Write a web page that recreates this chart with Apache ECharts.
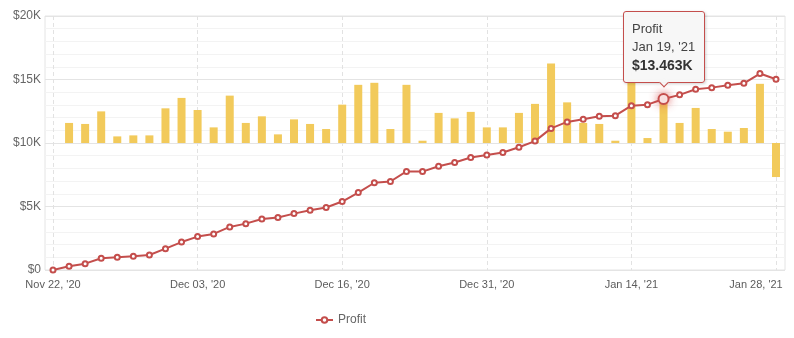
<!DOCTYPE html>
<html>
<head>
<meta charset="utf-8">
<script src="https://cdn.jsdelivr.net/npm/echarts@6/dist/echarts.min.js"></script>
<style>
html,body{margin:0;padding:0;background:#fff;}
#chart{width:794px;height:338px;}
</style>
</head>
<body>
<div id="chart"></div>
<script>
// ---- data ----
const dates = [
  "Nov 22, '20","Nov 23, '20","Nov 24, '20","Nov 25, '20","Nov 26, '20","Nov 27, '20","Nov 30, '20",
  "Dec 01, '20","Dec 02, '20","Dec 03, '20","Dec 04, '20","Dec 07, '20","Dec 08, '20","Dec 09, '20",
  "Dec 10, '20","Dec 11, '20","Dec 14, '20","Dec 15, '20","Dec 16, '20","Dec 17, '20","Dec 18, '20",
  "Dec 21, '20","Dec 22, '20","Dec 23, '20","Dec 28, '20","Dec 29, '20","Dec 30, '20","Dec 31, '20",
  "Jan 04, '21","Jan 05, '21","Jan 06, '21","Jan 07, '21","Jan 08, '21","Jan 11, '21","Jan 12, '21",
  "Jan 13, '21","Jan 14, '21","Jan 15, '21","Jan 19, '21","Jan 20, '21","Jan 21, '21","Jan 22, '21",
  "Jan 25, '21","Jan 26, '21","Jan 27, '21","Jan 28, '21"
];
const profit = [
  0, 290, 500, 920, 1000, 1080, 1180, 1680, 2200, 2630, 2840, 3390, 3650, 4020, 4130, 4440,
  4710, 4920, 5390, 6100, 6870, 6970, 7760, 7750, 8170, 8470, 8860, 9050, 9250, 9670, 10150,
  11150, 11660, 11870, 12100, 12150, 12940, 13020, 13463, 13790, 14230, 14360, 14540, 14700,
  15470, 15020
];
const daily = [
  null, 1580, 1500, 2490, 520, 600, 600, 2730, 3550, 2600, 1230, 3730, 1580, 2100, 680, 1860,
  1500, 1100, 3020, 4580, 4740, 1100, 4580, 180, 2370, 1940, 2450, 1230, 1230, 2370, 3080,
  6260, 3200, 1580, 1500, 180, 5000, 390, 3450, 1580, 2760, 1100, 890, 1180, 4660, -2680
];
const yTicks = [0, 5000, 10000, 15000, 20000];
const seriesName = 'Profit';
const tipIndex = 38;

// ---- chart ----
const chart = echarts.init(document.getElementById('chart'), null, {renderer: 'canvas'});
const FONT = '"Liberation Sans", Arial, sans-serif';
const lineColor = '#c44e4c';
const lastIdx = dates.length - 1;

const lineData = profit.map((v, i) => i === tipIndex ? {
  value: v, symbolSize: 10,
  itemStyle: {borderWidth: 2.5, shadowBlur: 8, shadowColor: 'rgba(215,70,70,0.7)'}
} : v);

function fmtMoney(v) {
  return '$' + (v / 1000).toFixed(3) + 'K';
}

chart.setOption({
  animation: false,
  backgroundColor: '#fff',
  textStyle: {fontFamily: FONT},
  grid: [
    {left: 45, right: 9, top: 16, bottom: 68, show: true, borderColor: '#e4e4e4', borderWidth: 1, backgroundColor: 'transparent'},
    {left: 53, right: 18, top: 16, bottom: 68}
  ],
  legend: {
    data: [seriesName],
    left: 310, top: 309,
    itemWidth: 17, itemHeight: 7, itemGap: 10,
    textStyle: {color: '#666', fontSize: 12, fontFamily: FONT}
  },
  tooltip: {
    trigger: 'item',
    position: 'top',
    alwaysShowContent: true,
    transitionDuration: 0,
    confine: false,
    backgroundColor: 'rgba(247,247,247,0.96)',
    borderColor: lineColor,
    borderWidth: 1,
    padding: [8, 9, 8, 8],
    textStyle: {color: '#333', fontSize: 13, fontFamily: FONT},
    extraCssText: 'border-radius:3px;box-shadow:1px 1px 3px rgba(0,0,0,0.18);',
    formatter: function (p) {
      if (p.seriesName !== seriesName) return '';
      return '<div style="line-height:18px;color:#444;font-size:13px">' + seriesName + '</div>' +
             '<div style="line-height:18px;color:#444;font-size:13px">' + dates[p.dataIndex] + '</div>' +
             '<div style="line-height:18px;color:#333;font-size:14px;font-weight:bold">' + fmtMoney(p.value) + '</div>';
    }
  },
  xAxis: [
    {gridIndex: 0, type: 'value', min: 0, max: 1, show: false},
    {
      gridIndex: 1, type: 'category', data: dates, boundaryGap: false,
      axisLine: {show: false}, axisTick: {show: false, interval: 8},
      axisLabel: {
        interval: 8, color: '#5c5c5c', fontSize: 11, margin: 9, fontFamily: FONT,
        formatter: function (v, i) { return i === lastIdx ? '{r|' + v + '}' : v; },
        rich: {r: {padding: [0, 40, 0, 0], color: '#5c5c5c', fontSize: 11, fontFamily: FONT}}
      },
      splitLine: {show: true, interval: 8, lineStyle: {color: '#e2e2e2', type: [4, 3]}}
    }
  ],
  yAxis: [
    {
      gridIndex: 0, type: 'value', min: 0, max: 20000, interval: 5000,
      axisLine: {show: false}, axisTick: {show: false},
      axisLabel: {
        color: '#666', fontSize: 12, margin: 4, fontFamily: FONT,
        formatter: v => v === 0 ? '$0' : '$' + (v / 1000) + 'K'
      },
      splitLine: {show: true, lineStyle: {color: '#e4e4e4'}},
      minorTick: {show: false, splitNumber: 5},
      minorSplitLine: {show: true, lineStyle: {color: '#f3f3f3'}}
    },
    {gridIndex: 1, type: 'value', min: 0, max: 20000, show: false},
    {gridIndex: 1, type: 'value', min: -10000, max: 10000, show: false}
  ],
  series: [
    {
      name: seriesName, type: 'line', xAxisIndex: 1, yAxisIndex: 1,
      data: lineData, z: 4,
      symbol: 'emptyCircle', symbolSize: 5,
      lineStyle: {color: lineColor, width: 2},
      itemStyle: {color: lineColor, borderColor: lineColor, borderWidth: 1.2},
      emphasis: {disabled: true}
    },
    {
      name: 'Daily', type: 'bar', xAxisIndex: 1, yAxisIndex: 2,
      data: daily, barWidth: 8, clip: false, z: 2,
      itemStyle: {color: '#f2ca5b'},
      emphasis: {disabled: true},
      tooltip: {show: false}
    }
  ]
});

chart.dispatchAction({type: 'showTip', seriesIndex: 0, dataIndex: tipIndex});
</script>
</body>
</html>
